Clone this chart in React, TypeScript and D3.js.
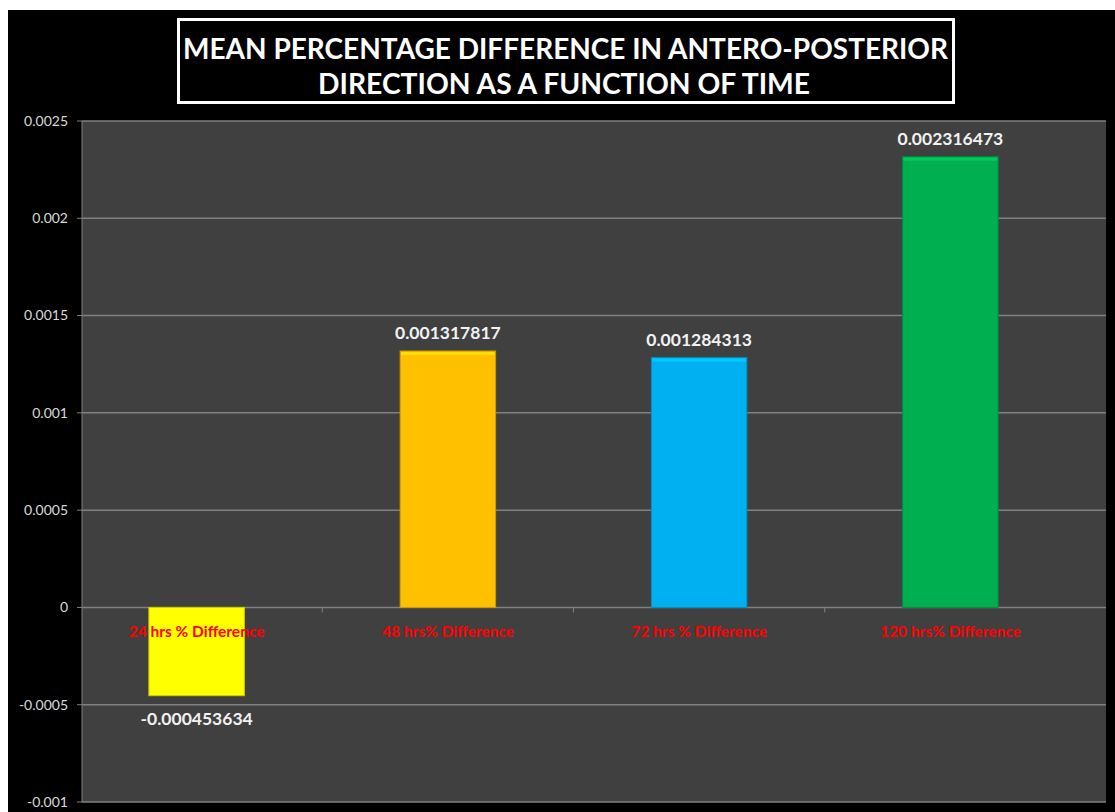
import React from "react";
import * as d3 from "d3";

const categories = [
  "24 hrs % Difference",
  "48 hrs% Difference",
  "72 hrs % Difference",
  "120 hrs% Difference",
];
const values = [-0.000453634, 0.001317817, 0.001284313, 0.002316473];
const valueLabels = ["-0.000453634", "0.001317817", "0.001284313", "0.002316473"];
const barColors = ["#FFFF00", "#FFC000", "#00B0F0", "#00B050"];
const yTicks = [0.0025, 0.002, 0.0015, 0.001, 0.0005, 0, -0.0005, -0.001];
const titleLines = [
  "MEAN PERCENTAGE DIFFERENCE IN ANTERO-POSTERIOR",
  "DIRECTION AS A FUNCTION OF TIME",
];

const W = 1115;
const H = 812;
const plot = { left: 82, right: 1106, top: 121, bottom: 802 };
const font = "Lato, 'Open Sans', sans-serif";

export default function App() {
  const y = d3.scaleLinear().domain([-0.001, 0.0025]).range([plot.bottom, plot.top]);
  const x = d3
    .scaleBand()
    .domain(categories)
    .range([71, 1076])
    .paddingInner(0.62)
    .paddingOuter(0.31);
  const fmt = (d) => String(+d.toFixed(4));
  const y0 = y(0);

  return (
    <svg
      width={W}
      height={H}
      style={{ position: "absolute", left: 0, top: 0, background: "#fff" }}
    >
      <rect x={8} y={10} width={W - 8} height={H - 10} fill="#000" />

      {/* title box */}
      <rect x={178.5} y={19.5} width={775} height={83} fill="none" stroke="#fff" strokeWidth={3} />
      {titleLines.map((t, i) => (
        <text
          key={t}
          x={i === 0 ? 183 : 318}
          y={i === 0 ? 59 : 94}
          textLength={i === 0 ? 765 : 492}
          lengthAdjust="spacingAndGlyphs"
          fill="#fff"
          fontFamily={font}
          fontWeight="bold"
          fontSize={29}
        >
          {t}
        </text>
      ))}

      {/* plot area */}
      <rect
        x={plot.left}
        y={plot.top}
        width={plot.right - plot.left}
        height={plot.bottom - plot.top}
        fill="#404040"
      />
      {yTicks.map((t) => (
        <g key={t}>
          <line
            x1={plot.left}
            x2={plot.right}
            y1={y(t)}
            y2={y(t)}
            stroke="#808080"
            strokeWidth={1.5}
          />
          <line x1={plot.left - 5} x2={plot.left} y1={y(t)} y2={y(t)} stroke="#808080" />
          <text
            x={68}
            y={y(t)}
            dy="0.35em"
            textAnchor="end"
            fill="#d9d9d9"
            fontFamily={font}
            fontSize={14}
          >
            {fmt(t)}
          </text>
        </g>
      ))}
      <line x1={plot.left} x2={plot.left} y1={plot.top} y2={plot.bottom} stroke="#808080" />

      {/* category boundary ticks on zero line */}
      {categories.slice(1).map((c) => {
        const bx = x(c) - (x.step() - x.bandwidth()) / 2;
        return <line key={c} x1={bx} x2={bx} y1={y0} y2={y0 + 5} stroke="#808080" />;
      })}

      {/* bars */}
      {categories.map((c, i) => {
        const v = values[i];
        const top = Math.min(y(v), y0);
        const h = Math.abs(y(v) - y0);
        const col = d3.color(barColors[i]);
        return (
          <g key={c}>
            <rect x={x(c)} y={top} width={x.bandwidth()} height={h} fill={barColors[i]} stroke={col.darker(0.6).toString()} strokeWidth={1} />
            <rect x={x(c) + 1} y={top + 1} width={x.bandwidth() - 2} height={3} fill={col.brighter(0.4).toString()} />
          </g>
        );
      })}

      {/* value labels */}
      {categories.map((c, i) => {
        const v = values[i];
        const cx = x(c) + x.bandwidth() / 2;
        const ly = v >= 0 ? y(v) - 12 : y(v) + 29;
        return (
          <text
            key={c}
            x={cx}
            y={ly}
            textAnchor="middle"
            fill="#f2f2f2"
            fontFamily={font}
            fontWeight="bold"
            fontSize={17.5}
          >
            {valueLabels[i]}
          </text>
        );
      })}

      {/* category labels */}
      {categories.map((c) => (
        <text
          key={c}
          x={x(c) + x.bandwidth() / 2}
          y={y0 + 30}
          textAnchor="middle"
          fill="#FF0000"
          fontFamily={font}
          fontWeight="bold"
          fontSize={15.5}
        >
          {c}
        </text>
      ))}
    </svg>
  );
}
